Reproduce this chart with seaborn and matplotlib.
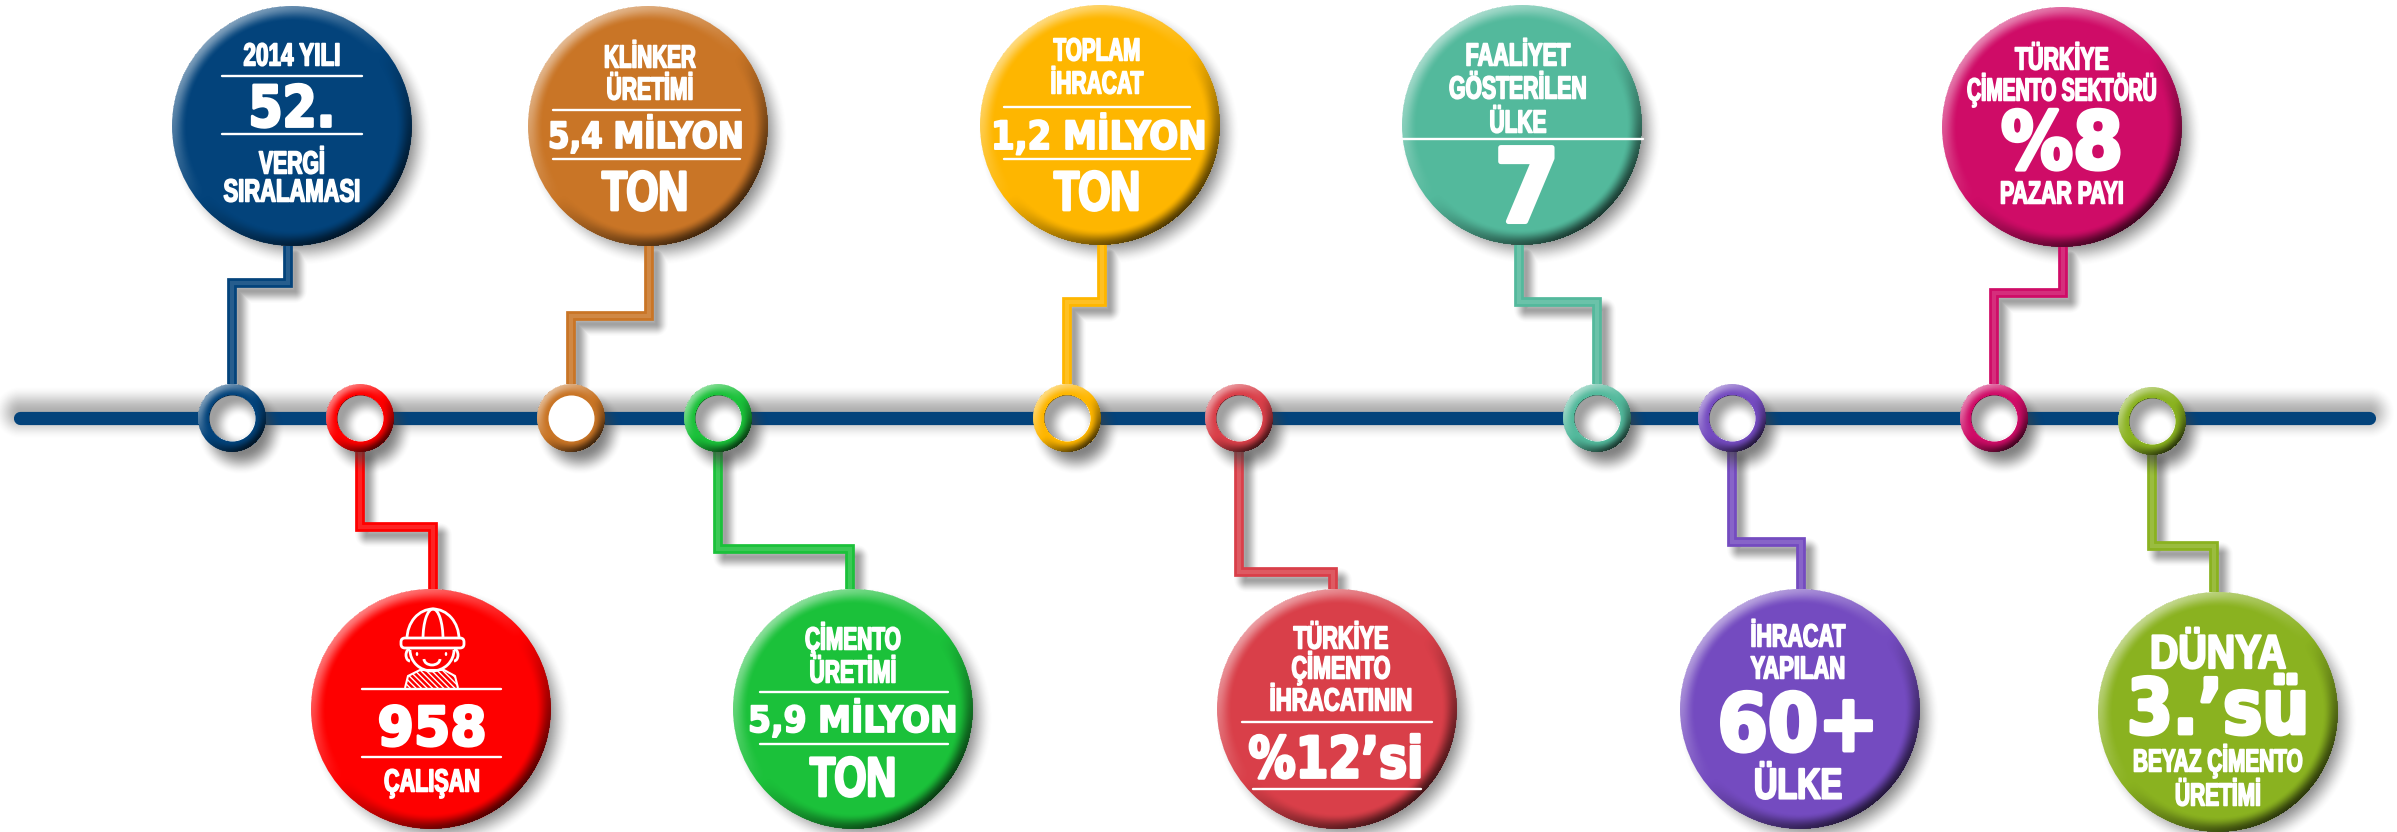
#!/usr/bin/env python

import matplotlib
matplotlib.use('Agg')

import numpy as np
import pandas as pd
import seaborn as sns
import matplotlib.pyplot as plt
from matplotlib.patches import Arc, Ellipse, FancyBboxPatch, Polygon
from matplotlib.patheffects import AbstractPathEffect
from matplotlib.transforms import Affine2D

W, H = 2397, 832

# milestones along the line, left to right
names = ['vergi', 'calisan', 'klinker', 'cimento', 'ihracat', 'pay12',
         'faaliyet', 'ulke', 'pazar', 'beyaz']
colors = ['#03437b', '#fe0000', '#c97526', '#1bc13a', '#feb600', '#d93f49',
          '#53b99c', '#744bc0', '#cf0c67', '#8ab220']

# text of each badge, row by row
texts = [
    ['2014 YILI', '52.', 'VERGİ', 'SIRALAMASI'],
    ['958', 'ÇALIŞAN'],
    ['KLİNKER', 'ÜRETİMİ', '5,4 MİLYON', 'TON'],
    ['ÇİMENTO', 'ÜRETİMİ', '5,9 MİLYON', 'TON'],
    ['TOPLAM', 'İHRACAT', '1,2 MİLYON', 'TON'],
    ['TÜRKİYE', 'ÇİMENTO', 'İHRACATININ', '%12’si'],
    ['FAALİYET', 'GÖSTERİLEN', 'ÜLKE', '7'],
    ['İHRACAT', 'YAPILAN', '60+', 'ÜLKE'],
    ['TÜRKİYE', 'ÇİMENTO SEKTÖRÜ', '%8', 'PAZAR PAYI'],
    ['DÜNYA', '3.’sü', 'BEYAZ ÇİMENTO', 'ÜRETİMİ'],
]
# layout in pixels
node_x = [232, 360, 571, 718, 1067, 1239, 1597, 1732, 1994, 2152]
node_y = [418, 418, 418, 418, 418, 418, 418, 418, 418, 421]
badge_x = [292, 431, 648, 853, 1100, 1337, 1522, 1800, 2062, 2218]
badge_y = [126, 709, 126, 709, 125, 709, 125, 709, 127, 712]
stem_x = [288, 433, 649, 850, 1102, 1333, 1519, 1801, 2063, 2214]
elbow_y = [283, 527, 316, 549, 302, 572, 302, 542, 293, 546]
text_x = [
    [292, 292, 292, 292],
    [432, 432],
    [650, 650, 646, 645],
    [853, 853, 853, 853],
    [1097, 1097, 1099, 1097],
    [1341, 1341, 1341, 1336],
    [1518, 1518, 1518, 1527],
    [1798, 1798, 1798, 1798],
    [2062, 2062, 2062, 2062],
    [2218, 2218, 2218, 2218],
]
text_y = [
    [54, 106, 162, 190],
    [726, 780],
    [56, 88, 135, 190],
    [638, 671, 719, 776],
    [49, 82, 135, 190],
    [637, 667, 699, 757],
    [54, 87, 121, 185],
    [635, 667, 722, 783],
    [58, 89, 140, 192],
    [651, 706, 760, 794],
]
# widths the rows take in the reference, in pixels
text_w = [
    [97, 87, 66, 137],
    [109, 96],
    [92, 87, 196, 86],
    [96, 87, 210, 86],
    [87, 93, 216, 86],
    [95, 99, 143, 175],
    [105, 138, 57, 65],
    [95, 95, 161, 88],
    [94, 190, 122, 124],
    [136, 182, 170, 86],
]
# 'n' narrow label, 'w' wide figure
text_kind = [
    ['n', 'w', 'n', 'n'],
    ['w', 'n'],
    ['n', 'n', 'w', 'n'],
    ['n', 'n', 'w', 'n'],
    ['n', 'n', 'w', 'n'],
    ['n', 'n', 'n', 'w'],
    ['n', 'n', 'n', 'w'],
    ['n', 'n', 'w', 'n'],
    ['n', 'n', 'w', 'n'],
    ['n', 'w', 'n', 'n'],
]
text_size = [
    [23, 41, 23, 23],
    [39, 23],
    [23, 23, 26, 40],
    [23, 23, 26, 40],
    [23, 23, 28, 40],
    [23, 23, 23, 41],
    [23, 23, 23, 73],
    [23, 23, 57, 31],
    [23, 23, 57, 23],
    [34, 55, 23, 23],
]
# white rules inside the badges: y, left, right
rule_y = [76, 134, 689, 757, 110, 159, 692, 744, 107, 159, 722, 789, 139]
rule_x0 = [222, 222, 362, 362, 553, 553, 760, 760, 1004, 1004, 1242, 1253, 1402]
rule_x1 = [362, 362, 501, 501, 740, 740, 948, 948, 1190, 1190, 1432, 1421, 1643]

line_x = [20, 2369]
line_y = [417.5, 417.5]
BADGE_R = 120
NODE_R = 34
HOLE_R = 23

sns.set_theme(style='white')


class Squeeze(AbstractPathEffect):
    # narrows a text around its centre and fattens it a little
    def __init__(self, sx, cx, lw):
        super().__init__()
        self.sx, self.cx, self.lw = sx, cx, lw

    def draw_path(self, renderer, gc, tpath, affine, rgbFace=None):
        squeezed = affine + Affine2D().translate(-self.cx, 0).scale(self.sx, 1).translate(self.cx, 0)
        gc0 = renderer.new_gc()
        gc0.copy_properties(gc)
        gc0.set_linewidth(self.lw)
        gc0.set_foreground('white')
        renderer.draw_path(gc0, tpath, squeezed, rgbFace)
        gc0.restore()


def px2pt(r):
    # scatter size (pt^2) for a circle of radius r pixels at dpi 100
    return (2 * r * 0.72) ** 2


def stem_points(i):
    up = badge_y[i] < node_y[i]
    y0 = node_y[i] - NODE_R if up else node_y[i] + NODE_R
    y1 = badge_y[i] + BADGE_R if up else badge_y[i] - BADGE_R
    if names[i] == 'faaliyet':
        # this one leaves the badge left of the node
        return pd.DataFrame({'x': [stem_x[i], stem_x[i], node_x[i], node_x[i]],
                             'y': [y1, elbow_y[i], elbow_y[i], y0]})
    return pd.DataFrame({'x': [node_x[i], node_x[i], stem_x[i], stem_x[i]],
                         'y': [y0, elbow_y[i], elbow_y[i], y1]})


def smooth(t):
    t = np.clip(t, 0, 1)
    return t * t * (3 - 2 * t)


def seg_dist(xx, yy, x0, y0, x1, y1):
    dx, dy = x1 - x0, y1 - y0
    t = np.clip(((xx - x0) * dx + (yy - y0) * dy) / max(dx * dx + dy * dy, 1), 0, 1)
    return np.hypot(xx - x0 - t * dx, yy - y0 - t * dy)


def gray_layer(alpha):
    img = np.zeros((H, W, 4))
    img[..., :3] = 0.25
    img[..., 3] = alpha
    return img


yy, xx = np.mgrid[0:H, 0:W] + 0.5

# soft shadows under everything
shade = np.zeros((H, W))
for i in range(len(names)):
    d = np.hypot(xx - badge_x[i] - 9, yy - badge_y[i] - 9)
    shade = np.maximum(shade, 0.65 * smooth((BADGE_R + 11 - d) / 30))
    pts = stem_points(i)
    for k in range(3):
        d = seg_dist(xx, yy, pts.x[k] + 7, pts.y[k] + 8, pts.x[k + 1] + 7, pts.y[k + 1] + 8)
        shade = np.maximum(shade, 0.5 * smooth((13 - d) / 14))
d = seg_dist(xx, yy, line_x[0], line_y[0] - 5, line_x[1], line_y[1] - 5)
shade = np.maximum(shade, 0.42 * smooth((27 - d) / 27))

# the nodes throw their shadow on the line as well
node_shade = np.zeros((H, W))
for i in range(len(names)):
    d = np.hypot(xx - node_x[i] - 9, yy - node_y[i] - 13)
    node_shade = np.maximum(node_shade, 0.65 * smooth((NODE_R + 10 - d) / 24))

# bevel on the rims, light from the upper left
light = np.zeros((H, W))
for cx, cy, r, rim in zip(badge_x + node_x, badge_y + node_y,
                          [BADGE_R] * 10 + [NODE_R] * 10, [0.13] * 10 + [0.32] * 10):
    dx, dy = xx - cx, yy - cy
    d = np.hypot(dx, dy)
    inside = (d <= r) & (d >= (HOLE_R if r == NODE_R else 0))
    t = smooth((d / r - (1 - rim)) / rim)
    lam = -(dx * 0.62 + dy * 0.78) / np.maximum(d, 1)
    light[inside] = (t * lam)[inside]
# inner shadow in the open rings, the brown one is clean white
for i in range(len(names)):
    if names[i] == 'klinker':
        continue
    dx, dy = xx - node_x[i], yy - node_y[i]
    hole = np.hypot(dx, dy) < HOLE_R
    light[hole] = -0.55 * smooth((np.hypot(dx - 7, dy - 7) - 9) / 18)[hole]
bevel_img = np.zeros((H, W, 4))
bevel_img[..., :3] = (light > 0)[..., None] * 1.0
bevel_img[..., 3] = np.where(light > 0, 0.5 * light, -0.68 * light)

fig = plt.figure(figsize=(W / 100, H / 100), dpi=100, facecolor='white')
ax = fig.add_axes([0, 0, 1, 1])
ax.imshow(gray_layer(shade), extent=(0, W, H, 0), zorder=1, interpolation='bilinear')

for i in range(len(names)):
    pts = stem_points(i)
    sns.lineplot(data=pts, x='x', y='y', sort=False, estimator=None, color=colors[i],
                 lw=7, solid_joinstyle='miter', solid_capstyle='butt', ax=ax, zorder=2)
    sns.lineplot(data=pts, x='x', y='y', sort=False, estimator=None, color='white', alpha=0.14,
                 lw=3, solid_joinstyle='miter', solid_capstyle='butt', ax=ax, zorder=2)

sns.lineplot(x=line_x, y=line_y, color='#03437b', lw=9.5, solid_capstyle='round', ax=ax, zorder=3)
ax.imshow(gray_layer(node_shade), extent=(0, W, H, 0), zorder=3.5, interpolation='bilinear')

sns.scatterplot(x=badge_x, y=badge_y, hue=names, palette=colors, s=px2pt(BADGE_R), linewidth=0,
                legend=False, ax=ax, zorder=4)
sns.scatterplot(x=node_x, y=node_y, hue=names, palette=colors, s=px2pt(NODE_R), linewidth=0,
                legend=False, ax=ax, zorder=4)
sns.scatterplot(x=node_x, y=node_y, color='white', s=px2pt(HOLE_R), linewidth=0, ax=ax, zorder=4.5)

ax.imshow(bevel_img, extent=(0, W, H, 0), zorder=5, interpolation='bilinear')

for y, x0, x1 in zip(rule_y, rule_x0, rule_x1):
    sns.lineplot(x=[x0, x1], y=[y, y], color='white', lw=1.7, ax=ax, zorder=6)

# worker icon in the red badge
ink = dict(fill=False, ec='white', lw=2, zorder=6)
ax.add_patch(Arc((433, 639), 52, 60, theta1=180, theta2=360, **ink))
ax.add_patch(Arc((433, 639), 20, 60, theta1=180, theta2=360, **ink))
ax.add_patch(FancyBboxPatch((403, 640), 59, 6, boxstyle='round,pad=2,rounding_size=4', **ink))
ax.add_patch(Arc((432, 650), 44, 42, theta1=0, theta2=180, **ink))
ax.add_patch(Arc((410, 655), 8, 12, theta1=90, theta2=270, **ink))
ax.add_patch(Arc((454, 655), 8, 12, theta1=270, theta2=90, **ink))
ax.add_patch(Ellipse((417, 654), 2.5, 4, fc='white', ec='none', zorder=6))
ax.add_patch(Ellipse((446, 654), 2.5, 4, fc='white', ec='none', zorder=6))
ax.add_patch(Arc((432, 659), 16, 12, theta1=0, theta2=180, **ink))
ax.add_patch(Polygon([(405, 688), (408, 676), (420, 670), (444, 670), (455, 676), (458, 688)],
                     closed=False, fill=False, ec='white', lw=1.5, hatch='\\\\\\\\\\\\', zorder=6))

ax.set_xlim(0, W)
ax.set_ylim(H, 0)
ax.set_aspect('auto')
ax.axis('off')

# rows go on last so each one can be fitted to its width in the reference
renderer = fig.canvas.get_renderer()
for i in range(len(names)):
    for t, x, y, w, kind, size in zip(texts[i], text_x[i], text_y[i], text_w[i],
                                      text_kind[i], text_size[i]):
        fam = 'DejaVu Sans' if kind == 'w' else 'Liberation Sans'
        label = ax.text(x, y + size / 2, t, color='white', ha='center', va='baseline',
                        family=fam, fontweight='bold', fontsize=size, zorder=7)
        full = label.get_window_extent(renderer).width
        label.set_path_effects([Squeeze(w / full, x, 0.05 * size)])

fig.savefig('out.png', dpi=100, facecolor='white')
plt.close()
